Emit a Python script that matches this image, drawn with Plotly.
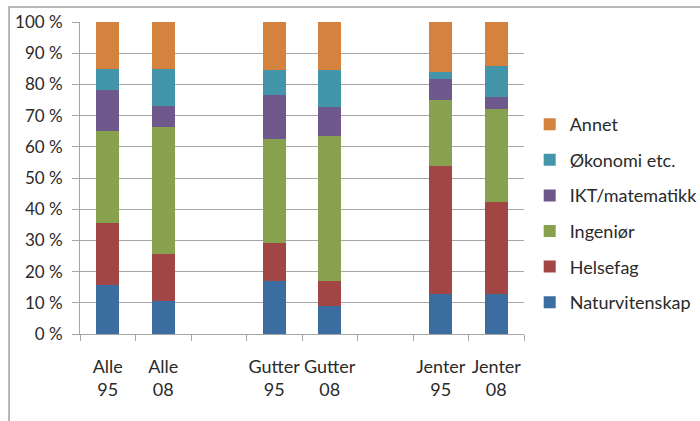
import plotly.graph_objects as go

# Categories (two empty slots separate the groups)
categories = ["Alle<br>95", "Alle<br>08", " ", "Gutter<br>95", "Gutter<br>08", "  ",
              "Jenter<br>95", "Jenter<br>08"]

# Share of students per field, in percent (None for the empty slots)
naturvitenskap = [15.6, 10.6, None, 17.0, 9.1, None, 12.9, 12.9]
helsefag       = [20.0, 15.1, None, 12.2, 7.9, None, 41.0, 29.4]
ingenior       = [29.5, 40.6, None, 33.3, 46.5, None, 21.2, 29.9]
ikt_matematikk = [13.2, 6.8, None, 14.1, 9.3, None, 6.6, 3.8]
okonomi        = [6.6, 11.8, None, 8.1, 11.9, None, 2.4, 10.0]
annet          = [15.1, 15.1, None, 15.3, 15.3, None, 15.9, 14.0]

series = [
    ("Naturvitenskap", naturvitenskap, "#3C6DA0"),
    ("Helsefag", helsefag, "#A24645"),
    ("Ingeniør", ingenior, "#88A14E"),
    ("IKT/matematikk", ikt_matematikk, "#6E588C"),
    ("Økonomi etc.", okonomi, "#4395AA"),
    ("Annet", annet, "#D5823F"),
]

FONT = "Lato"
TXT = "#2a2a2a"
GRID = "#A6A6A6"

fig = go.Figure()
n = len(series)
for i, (name, vals, color) in enumerate(series):
    fig.add_trace(go.Bar(
        x=categories, y=vals, name=name, marker_color=color,
        marker_line_width=0, legendgroup=f"g{i}", legendrank=n - i,
    ))

W, H = 700, 421
L, R, T, B = 80, 524.3, 22, 334
pw, ph = R - L, B - T

fig.update_layout(
    width=W, height=H,
    margin=dict(l=L, r=W - R, t=T, b=H - B, pad=0, autoexpand=False),
    barmode="stack", bargap=0.585,
    plot_bgcolor="white", paper_bgcolor="white",
    font=dict(family=FONT, size=17, color=TXT),
    showlegend=True,
    legend=dict(
        x=(530 - L) / pw, xanchor="left",
        y=(B - 106) / ph, yanchor="top",
        traceorder="grouped", tracegroupgap=9.2,
        font=dict(family=FONT, size=18, color=TXT),
        bgcolor="rgba(0,0,0,0)",
    ),
    xaxis=dict(
        type="category", categoryorder="array", categoryarray=categories,
        tickson="boundaries", ticks="outside", ticklen=6, tickcolor=GRID,
        showline=True, linecolor=GRID, linewidth=1,
        showgrid=False, tickfont=dict(family=FONT, size=18, color=TXT),
        tickangle=0, automargin=False,
        ticklabelstandoff=16,
    ),
    yaxis=dict(
        range=[0, 100], dtick=10, ticksuffix=" %",
        ticks="outside", ticklen=7, tickcolor=GRID,
        showline=True, linecolor=GRID, linewidth=1,
        showgrid=True, gridcolor=GRID, gridwidth=1,
        zeroline=False, automargin=False,
        tickfont=dict(family=FONT, size=17, color=TXT),
        ticklabelstandoff=6,
    ),
    shapes=[dict(
        type="rect", xref="paper", yref="paper",
        x0=(9 - L) / pw, x1=(760 - L) / pw,
        y0=(B - 470) / ph, y1=(B - 7) / ph,
        line=dict(color="#A0A0A0", width=1.5), fillcolor="rgba(0,0,0,0)",
        layer="below",
    )],
)

fig.write_html("out.html")
